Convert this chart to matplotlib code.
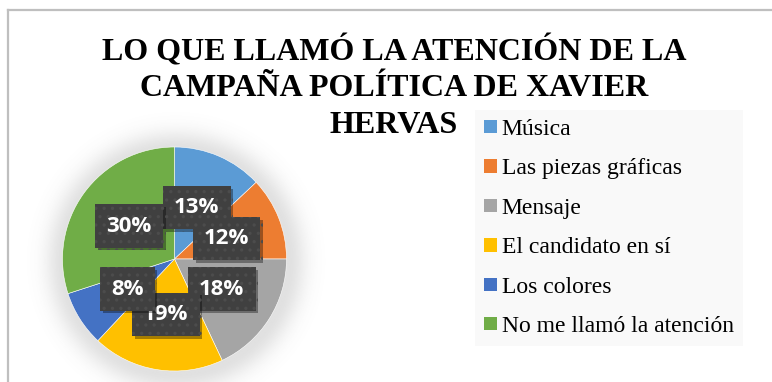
import matplotlib.pyplot as plt
import matplotlib.patheffects as pe
from matplotlib.patches import Patch
from matplotlib.lines import Line2D
import numpy as np

categories = ['Música', 'Las piezas gráficas', 'Mensaje', 'El candidato en sí',
              'Los colores', 'No me llamó la atención']
percentages = [13, 12, 18, 19, 8, 30]
colors = ['#5B9BD5', '#ED7D31', '#A5A5A5', '#FFC000', '#4472C4', '#70AD47']
title_lines = ['LO QUE LLAMÓ LA ATENCIÓN DE LA', 'CAMPAÑA POLÍTICA DE XAVIER', 'HERVAS']

W, H = 772, 382
fig = plt.figure(figsize=(W / 100, H / 100), dpi=100)
fig.patch.set_facecolor('white')

# chart area border (only top and left edges fall inside the image)
fig.add_artist(Line2D([7.5 / W, 7.5 / W], [0, 1 - 9.5 / H], transform=fig.transFigure,
                      color='#bfbfbf', lw=1.6))
fig.add_artist(Line2D([7.5 / W, 1], [1 - 9.5 / H, 1 - 9.5 / H], transform=fig.transFigure,
                      color='#bfbfbf', lw=1.6))

# pie axes: radius 1 maps to 112 px, centre at (174.5, 259) px
cx, cy, R = 174.5, 259, 112
lim = 1.5
half = lim * R
ax = fig.add_axes([(cx - half) / W, (H - cy - half) / H, 2 * half / W, 2 * half / H])

wedges, texts, autotexts = ax.pie(
    percentages, colors=colors, startangle=90, counterclock=False, radius=1,
    autopct=lambda p: f'{p:.0f}%', pctdistance=0.5,
    wedgeprops=dict(linewidth=0.4, edgecolor='white'),
    textprops=dict(color='white', fontsize=16, fontweight='bold', family='Open Sans'))
for w in wedges:
    w.set_zorder(2)

# soft glow behind the pie
g = np.linspace(-lim, lim, 400)
xx, yy = np.meshgrid(g, g)
d = np.hypot(xx - 0.01, yy + 0.02)
glow = np.where(d > 1, np.exp(-((d - 1) / 0.17) ** 2), 1.0) * 0.2
rgba = np.zeros((400, 400, 4))
rgba[..., :3] = 0.4
rgba[..., 3] = glow
ax.imshow(rgba, extent=(-lim, lim, -lim, lim), origin='lower', zorder=0,
          interpolation='bilinear')
ax.set_xlim(-lim, lim)
ax.set_ylim(-lim, lim)
ax.set_aspect('equal')
ax.axis('off')

plt.rcParams['hatch.linewidth'] = 1.2
for t in autotexts:
    t.set_zorder(5)
    t.set_bbox(dict(boxstyle='square,pad=0.5', facecolor='#404040', edgecolor='#4c4c4c',
                    linewidth=0, hatch='..'))
    t.get_bbox_patch().set_path_effects(
        [pe.SimplePatchShadow(offset=(2, -2), shadow_rgbFace='black', alpha=0.35), pe.Normal()])

# title, one text per line
for line, base in zip(title_lines, [60, 96.5, 133]):
    fig.text(394 / W, 1 - base / H, line, ha='center', va='baseline', fontsize=23,
             fontweight='bold', family='Liberation Serif')

handles = [Patch(facecolor=c, edgecolor='none') for c in colors]
leg = fig.legend(handles, categories, loc='upper left',
                 bbox_to_anchor=(475 / W, 1 - 110 / H), frameon=True, fancybox=False,
                 prop=dict(family='Liberation Serif', size=17), handlelength=0.55,
                 handleheight=0.5, handletextpad=0.2, labelspacing=0.78,
                 borderpad=0.38, borderaxespad=0)
leg.get_frame().set_facecolor('#f8f8f8')
leg.get_frame().set_edgecolor('none')

fig.savefig('out.png', dpi=100)
